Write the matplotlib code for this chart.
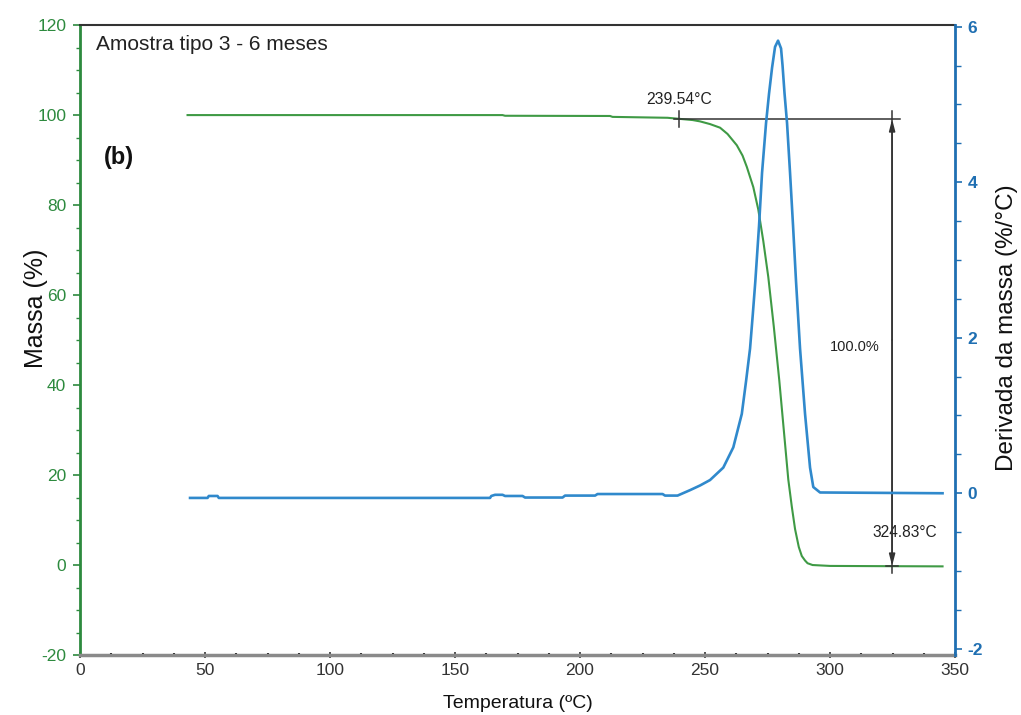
import matplotlib
matplotlib.use("Agg")
import matplotlib.pyplot as plt
from matplotlib.ticker import MultipleLocator

plt.rcParams['font.family'] = ['Liberation Sans', 'DejaVu Sans']
plt.rcParams['axes.unicode_minus'] = False

# TGA mass curve (%)
temp_mass = [43, 84, 169, 170, 212, 213, 235, 240, 245, 248, 252, 256, 259,
             262.7, 265, 266.7, 269.3, 271.3, 273.3, 275.3, 277.5, 279.7,
             281.5, 283.3, 284.7, 286, 287.5, 288.7, 290, 291, 293, 300,
             320, 345]
mass = [100.0, 100.0, 100.0, 99.85, 99.8, 99.6, 99.4, 99.15, 98.9, 98.6,
        98.0, 97.2, 95.8, 93.3, 91.0, 88.5, 84.0, 79.0, 72.0, 64.0, 53.0,
        41.0, 30.0, 19.0, 13.0, 8.0, 4.0, 2.0, 1.0, 0.4, 0.0, -0.2, -0.25,
        -0.3]

# DTG curve (%/°C)
temp_dtg = [44, 51, 51.5, 55, 55.5, 164, 164.5, 166, 169, 170, 177, 178,
            193, 194, 206, 207, 233, 234, 239, 244, 248, 252, 257.3, 261.3,
            264.7, 266.4, 268, 269.1, 270.1, 271.6, 272.8, 274.4, 275.6,
            276.8, 278, 279.2, 280.4, 281.0, 281.8, 282.8, 284, 285.2, 286.4,
            288, 290, 292, 293.3, 296, 345]
dtg = [-0.06, -0.06, -0.035, -0.035, -0.06, -0.06, -0.035, -0.02, -0.02,
       -0.035, -0.035, -0.055, -0.055, -0.03, -0.03, -0.01, -0.01, -0.03,
       -0.03, 0.04, 0.1, 0.17, 0.33, 0.59, 1.02, 1.44, 1.86, 2.3, 2.72, 3.44,
       4.12, 4.76, 5.14, 5.47, 5.74, 5.82, 5.72, 5.5, 5.14, 4.76, 4.12, 3.44,
       2.72, 1.86, 1.02, 0.33, 0.08, 0.01, 0.0]

# Onset / end-set markers
onset_temp = 239.54
onset_mass = 99.1
end_temp = 324.83
end_mass = -0.2
mass_loss_label = "100.0%"

x_ticks = [0, 50, 100, 150, 200, 250, 300, 350]
mass_ticks = [-20, 0, 20, 40, 60, 80, 100, 120]
dtg_ticks = [-2, 0, 2, 4, 6]

GREEN_AX = '#2d8a3e'
GREEN_LN = '#3f9a45'
BLUE_AX = '#1f6fb2'
BLUE_LN = '#3089cc'

fig = plt.figure(figsize=(10.21, 7.15), dpi=100)
ax = fig.add_axes([0.0784, 0.0839, 0.857, 0.881])
ax2 = ax.twinx()

ax.plot(temp_mass, mass, color=GREEN_LN, lw=1.5, zorder=3)
ax2.plot(temp_dtg, dtg, color=BLUE_LN, lw=1.9, zorder=3)

ax.set_xlim(0, 350)
ax.set_ylim(-20, 120)
ax2.set_ylim(-2.08, 6.02)

ax.set_xticks(x_ticks)
ax.set_yticks(mass_ticks)
ax2.set_yticks(dtg_ticks)
ax.xaxis.set_minor_locator(MultipleLocator(12.5))
ax.yaxis.set_minor_locator(MultipleLocator(5))
ax2.yaxis.set_minor_locator(MultipleLocator(0.5))

# spines
ax.spines['left'].set_color(GREEN_AX)
ax.spines['left'].set_linewidth(2)
ax.spines['top'].set_color('#333333')
ax.spines['top'].set_linewidth(1.5)
ax.spines['bottom'].set_color('#8a8a8a')
ax.spines['bottom'].set_linewidth(2.5)
ax.spines['right'].set_visible(False)
ax2.spines['right'].set_color(BLUE_AX)
ax2.spines['right'].set_linewidth(2)
for s in ['left', 'top', 'bottom']:
    ax2.spines[s].set_visible(False)

ax.tick_params(axis='y', which='major', colors=GREEN_AX, labelsize=12.5,
               length=5, width=1.2, direction='out', pad=5)
ax.tick_params(axis='y', which='minor', colors=GREEN_AX, length=3, width=1,
               direction='out')
ax.tick_params(axis='x', which='major', colors='#333333', labelsize=12.5,
               length=4, width=1.2, direction='inout', pad=4)
ax.tick_params(axis='x', which='minor', colors='#222222', length=2.5,
               width=1.5, direction='inout')
ax2.tick_params(axis='y', which='major', colors=BLUE_AX, labelsize=12.5,
                length=5, width=1.2, direction='out', pad=4)
ax2.tick_params(axis='y', which='minor', colors=BLUE_AX, length=4, width=1,
                direction='out')
for lab in ax2.get_yticklabels():
    lab.set_fontweight('bold')

ax.set_xlabel('Temperatura (ºC)', fontsize=14, color='#111111', labelpad=12)
ax.set_ylabel('Massa (%)', fontsize=18, color='#111111', va='center')
ax.yaxis.set_label_coords(-0.05, 0.55)
ax2.set_ylabel('Derivada da massa (%/°C)', fontsize=17.5, color='#111111',
               va='center')
ax2.yaxis.set_label_coords(1.059, 0.52)

# titles inside plot
ax.text(6.5, 115.6, 'Amostra tipo 3 - 6 meses', fontsize=15,
        color='#222222', va='center', ha='left')
ax.text(9.5, 90.5, '(b)', fontsize=17, fontweight='bold', color='#111111',
        va='center', ha='left')

# onset construction
ax.plot([237.5, 328], [onset_mass, onset_mass], color='#333333', lw=1.1,
        zorder=4)
ax.plot([onset_temp, onset_temp], [onset_mass - 1.8, onset_mass + 1.8],
        color='#333333', lw=1.1, zorder=4)
ax.text(onset_temp, 103.4, f'{onset_temp:.2f}°C', fontsize=11.3,
        color='#222222', ha='center', va='center')

# mass-loss double arrow
ax.plot([end_temp, end_temp], [onset_mass + 1.8, end_mass - 1.6],
        color='#333333', lw=1.1, zorder=4)
ax.annotate('', xy=(end_temp, onset_mass), xytext=(end_temp, 50),
            arrowprops=dict(arrowstyle='-|>,head_length=0.7,head_width=0.18',
                            color='#333333', lw=1.1, shrinkA=0, shrinkB=0),
            zorder=4)
ax.annotate('', xy=(end_temp, end_mass), xytext=(end_temp, 50),
            arrowprops=dict(arrowstyle='-|>,head_length=0.7,head_width=0.18',
                            color='#333333', lw=1.1, shrinkA=0, shrinkB=0),
            zorder=4)
ax.plot([322.5, 327], [end_mass - 0.05, end_mass - 0.05], color='#333333',
        lw=1.1, zorder=4)
ax.text(310, 48.5, mass_loss_label, fontsize=10.5, color='#222222',
        ha='center', va='center')
ax.text(330, 7.3, f'{end_temp:.2f}°C', fontsize=11.2, color='#222222',
        ha='center', va='center', zorder=2)

fig.savefig('out.png', dpi=100, facecolor='white')
